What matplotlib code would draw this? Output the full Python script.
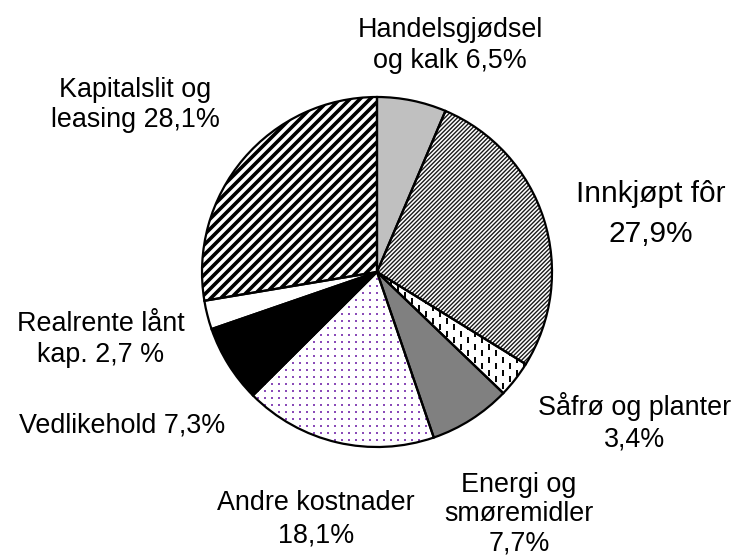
import numpy as np
import matplotlib
matplotlib.use("Agg")
import matplotlib.pyplot as plt
from matplotlib.collections import LineCollection

# cost shares (%) clockwise from 12 o'clock
categories = ["Handelsgjødsel\nog kalk 6,5%", "Innkjøpt fôr\n27,9%", "Såfrø og planter\n3,4%",
              "Energi og\nsmøremidler\n7,7%", "Andre kostnader\n18,1%", "Vedlikehold 7,3%",
              "Realrente lånt\nkap. 2,7 %", "Kapitalslit og\nleasing 28,1%"]
values = [6.5, 27.9, 3.4, 7.7, 18.1, 7.3, 2.7, 28.1]

fills = ["#c0c0c0", "white", "white", "#808080", "white", "black", "white", "white"]

plt.rcParams['font.family'] = ['Liberation Sans', 'DejaVu Sans']

W, H = 741, 560
fig = plt.figure(figsize=(W / 100, H / 100), dpi=100)
ax = fig.add_axes([0, 0, 1, 1])

cx, cy, r = 377, H - 272, 175

wedges, _ = ax.pie(values, colors=fills, startangle=90, counterclock=False,
                   center=(cx, cy), radius=r, frame=True,
                   wedgeprops=dict(linewidth=0, zorder=1))


def stripes(wedge, step, lw, color):
    segs = [[(cx - r - 400 + c, cy - r - 400), (cx + r + 400 + c, cy + r + 400)]
            for c in np.arange(-2 * r - 400, 2 * r + 400, step)]
    lc = LineCollection(segs, colors=color, linewidths=lw, zorder=2)
    ax.add_collection(lc)
    lc.set_clip_path(wedge)


def dashes(wedge, dx, dy, length, lw):
    segs = []
    for i, x in enumerate(np.arange(cx - r, cx + r, dx)):
        off = (dy / 2) * (i % 2)
        for y in np.arange(cy - r + off, cy + r, dy):
            segs.append([(x, y), (x, y + length)])
    lc = LineCollection(segs, colors='black', linewidths=lw, zorder=2)
    ax.add_collection(lc)
    lc.set_clip_path(wedge)


def dots(wedge, step, color):
    xs, ys = np.meshgrid(np.arange(cx - r, cx + r, step), np.arange(cy - r, cy + r, step))
    sc = ax.scatter(xs.ravel(), ys.ravel(), s=1.8, c=color, marker='s', linewidths=0, zorder=2)
    sc.set_clip_path(wedge)


stripes(wedges[1], 4.2, 1.0, '#1a1a1a')
dashes(wedges[2], 7, 13, 6, 1.4)
dots(wedges[4], 7, '#8a4bb8')
stripes(wedges[7], 10, 2.6, 'black')

# outlines on top
ax.pie(values, colors=['none'] * len(values), startangle=90, counterclock=False,
       center=(cx, cy), radius=r, frame=True,
       wedgeprops=dict(linewidth=1.6, edgecolor='black', zorder=3))
ax.set_xlim(0, W)
ax.set_ylim(0, H)
ax.set_aspect('equal')
ax.axis('off')

# label placement: centre x, first baseline (pixels from top), line step
label_pos = [(450, 37, 31), (651, 202, 40), (635, 415, 31), (519, 492, 29),
             (316, 510, 32), (122, 432, 0), (101, 331, 31), (135, 97, 30)]
for i, (text, (lx, ly, step)) in enumerate(zip(categories, label_pos)):
    size = 21.5 if i == 1 else 19.4
    for j, line in enumerate(text.split("\n")):
        ax.text(lx, H - (ly + j * step), line, ha='center', va='baseline',
                fontsize=size, color='black')

fig.savefig("out.png", dpi=100)
